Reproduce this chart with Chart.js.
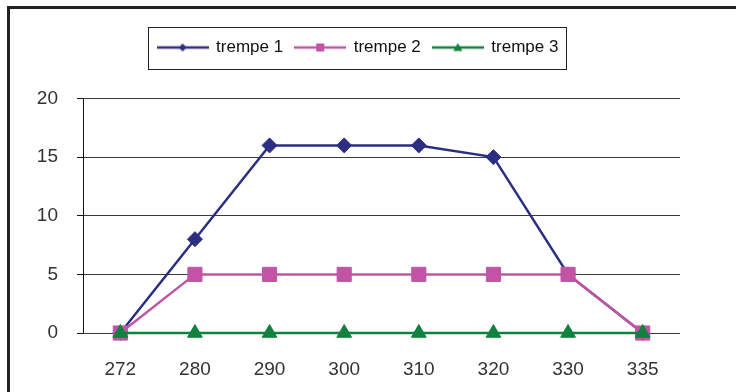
<!DOCTYPE html>
<html>
<head>
<meta charset="utf-8">
<script src="https://cdn.jsdelivr.net/npm/chart.js@4/dist/chart.umd.min.js"></script>
<style>
  html, body { margin: 0; padding: 0; background: #fff; }
  #wrap { width: 736px; height: 392px; }
</style>
</head>
<body>
<div id="wrap"><canvas id="g-trempe" width="736" height="392"></canvas></div>
<script>
const categories = ['272', '280', '290', '300', '310', '320', '330', '335'];
const trempe1 = [0, 8, 16, 16, 16, 15, 5, 0];
const trempe2 = [0, 5, 5, 5, 5, 5, 5, 0];
const trempe3 = [0, 0, 0, 0, 0, 0, 0, 0];
const seriesNames = ['trempe 1', 'trempe 2', 'trempe 3'];
const colors = ['#2B2E83', '#C254A6', '#12803E'];

// petite icone de legende : trait + marqueur
function legendIcon(color, style) {
    const c = document.createElement('canvas');
    c.width = 52;
    c.height = 14;
    const ctx = c.getContext('2d');
    ctx.strokeStyle = color;
    ctx.fillStyle = color;
    ctx.lineWidth = 2.5;
    ctx.beginPath();
    ctx.moveTo(0, 7);
    ctx.lineTo(52, 7);
    ctx.stroke();
    ctx.beginPath();
    if (style === 'rectRot') {
        ctx.moveTo(26, 3); ctx.lineTo(30, 7); ctx.lineTo(26, 11); ctx.lineTo(22, 7);
    } else if (style === 'rect') {
        ctx.rect(22, 3, 8, 8);
    } else {
        ctx.moveTo(26, 2.5); ctx.lineTo(30.5, 10.5); ctx.lineTo(21.5, 10.5);
    }
    ctx.closePath();
    ctx.fill();
    return c;
}

const legendFrame = {
    id: 'legendFrame',
    afterInit(chart) {
        const legend = chart.legend;
        const fit = legend.fit;
        legend.fit = function () {
            fit.call(this);
            this.height = 71.5;
        };
    },
    afterLayout(chart) {
        const legend = chart.legend;
        const shift = 358 - (legend.left + legend.right) / 2;
        legend.left += shift;
        legend.right += shift;
    },
    beforeDraw(chart) {
        const ctx = chart.ctx;
        ctx.save();
        ctx.fillStyle = '#222';
        ctx.fillRect(7, 6, 729, 3);
        ctx.fillRect(7, 6, 3, 386);
        ctx.restore();
    },
    afterDraw(chart) {
        const boxes = chart.legend.legendHitBoxes;
        if (!boxes || !boxes.length) return;
        const left = Math.min(...boxes.map(b => b.left)) - 10;
        const right = Math.max(...boxes.map(b => b.left + b.width)) + 7;
        const top = Math.min(...boxes.map(b => b.top)) - 12.5;
        const bottom = Math.max(...boxes.map(b => b.top + b.height)) + 12.5;
        const ctx = chart.ctx;
        ctx.save();
        ctx.strokeStyle = '#222';
        ctx.lineWidth = 1;
        ctx.strokeRect(Math.round(left) + 0.5, Math.round(top) + 0.5, Math.round(right - left), Math.round(bottom - top));
        ctx.restore();
    }
};

const pointStyles = ['rectRot', 'rect', 'triangle'];
const pointRadius = [7.5, 10, 8.5];

function makeDataset(i, values) {
    return {
        label: seriesNames[i],
        data: values,
        borderColor: colors[i],
        backgroundColor: colors[i],
        borderWidth: 2.5,
        pointStyle: pointStyles[i],
        pointRadius: pointRadius[i],
        pointBorderWidth: 1,
        pointBackgroundColor: colors[i],
        pointBorderColor: colors[i],
        tension: 0,
        clip: false,
        order: 2 - i
    };
}

const config = {
    type: 'line',
    data: {
        labels: categories,
        datasets: [
            makeDataset(0, trempe1),
            makeDataset(1, trempe2),
            makeDataset(2, trempe3)
        ]
    },
    options: {
        responsive: false,
        animation: false,
        events: [],
        layout: {
            padding: { left: 7, right: 56, top: 27, bottom: 0 }
        },
        plugins: {
            tooltip: { enabled: false },
            legend: {
                position: 'top',
                labels: {
                    usePointStyle: true,
                    pointStyleWidth: 50,
                    padding: 12,
                    color: '#111',
                    font: { family: '"Liberation Sans", Arial, sans-serif', size: 17 },
                    generateLabels(chart) {
                        const items = Chart.defaults.plugins.legend.labels.generateLabels(chart);
                        items.sort((a, b) => a.datasetIndex - b.datasetIndex);
                        items.forEach(item => {
                            const i = item.datasetIndex;
                            item.pointStyle = legendIcon(colors[i], pointStyles[i]);
                        });
                        return items;
                    }
                }
            }
        },
        scales: {
            x: {
                offset: true,
                grid: { display: false },
                border: { display: false },
                ticks: {
                    padding: 17,
                    color: '#333',
                    maxRotation: 0,
                    font: { family: '"Liberation Sans", Arial, sans-serif', size: 19 }
                },
                afterFit(scale) { scale.height = 59; }
            },
            y: {
                min: 0,
                max: 20,
                ticks: {
                    stepSize: 5,
                    padding: 19,
                    color: '#333',
                    font: { family: '"Liberation Sans", Arial, sans-serif', size: 19 }
                },
                grid: {
                    color: '#3a3a3a',
                    lineWidth: 1,
                    tickLength: 6,
                    tickColor: '#111'
                },
                border: { display: true, color: '#111', width: 1 },
                afterFit(scale) { scale.width = 76; }
            }
        }
    },
    plugins: [legendFrame]
};

new Chart(document.getElementById('g-trempe').getContext('2d'), config);
</script>
</body>
</html>
